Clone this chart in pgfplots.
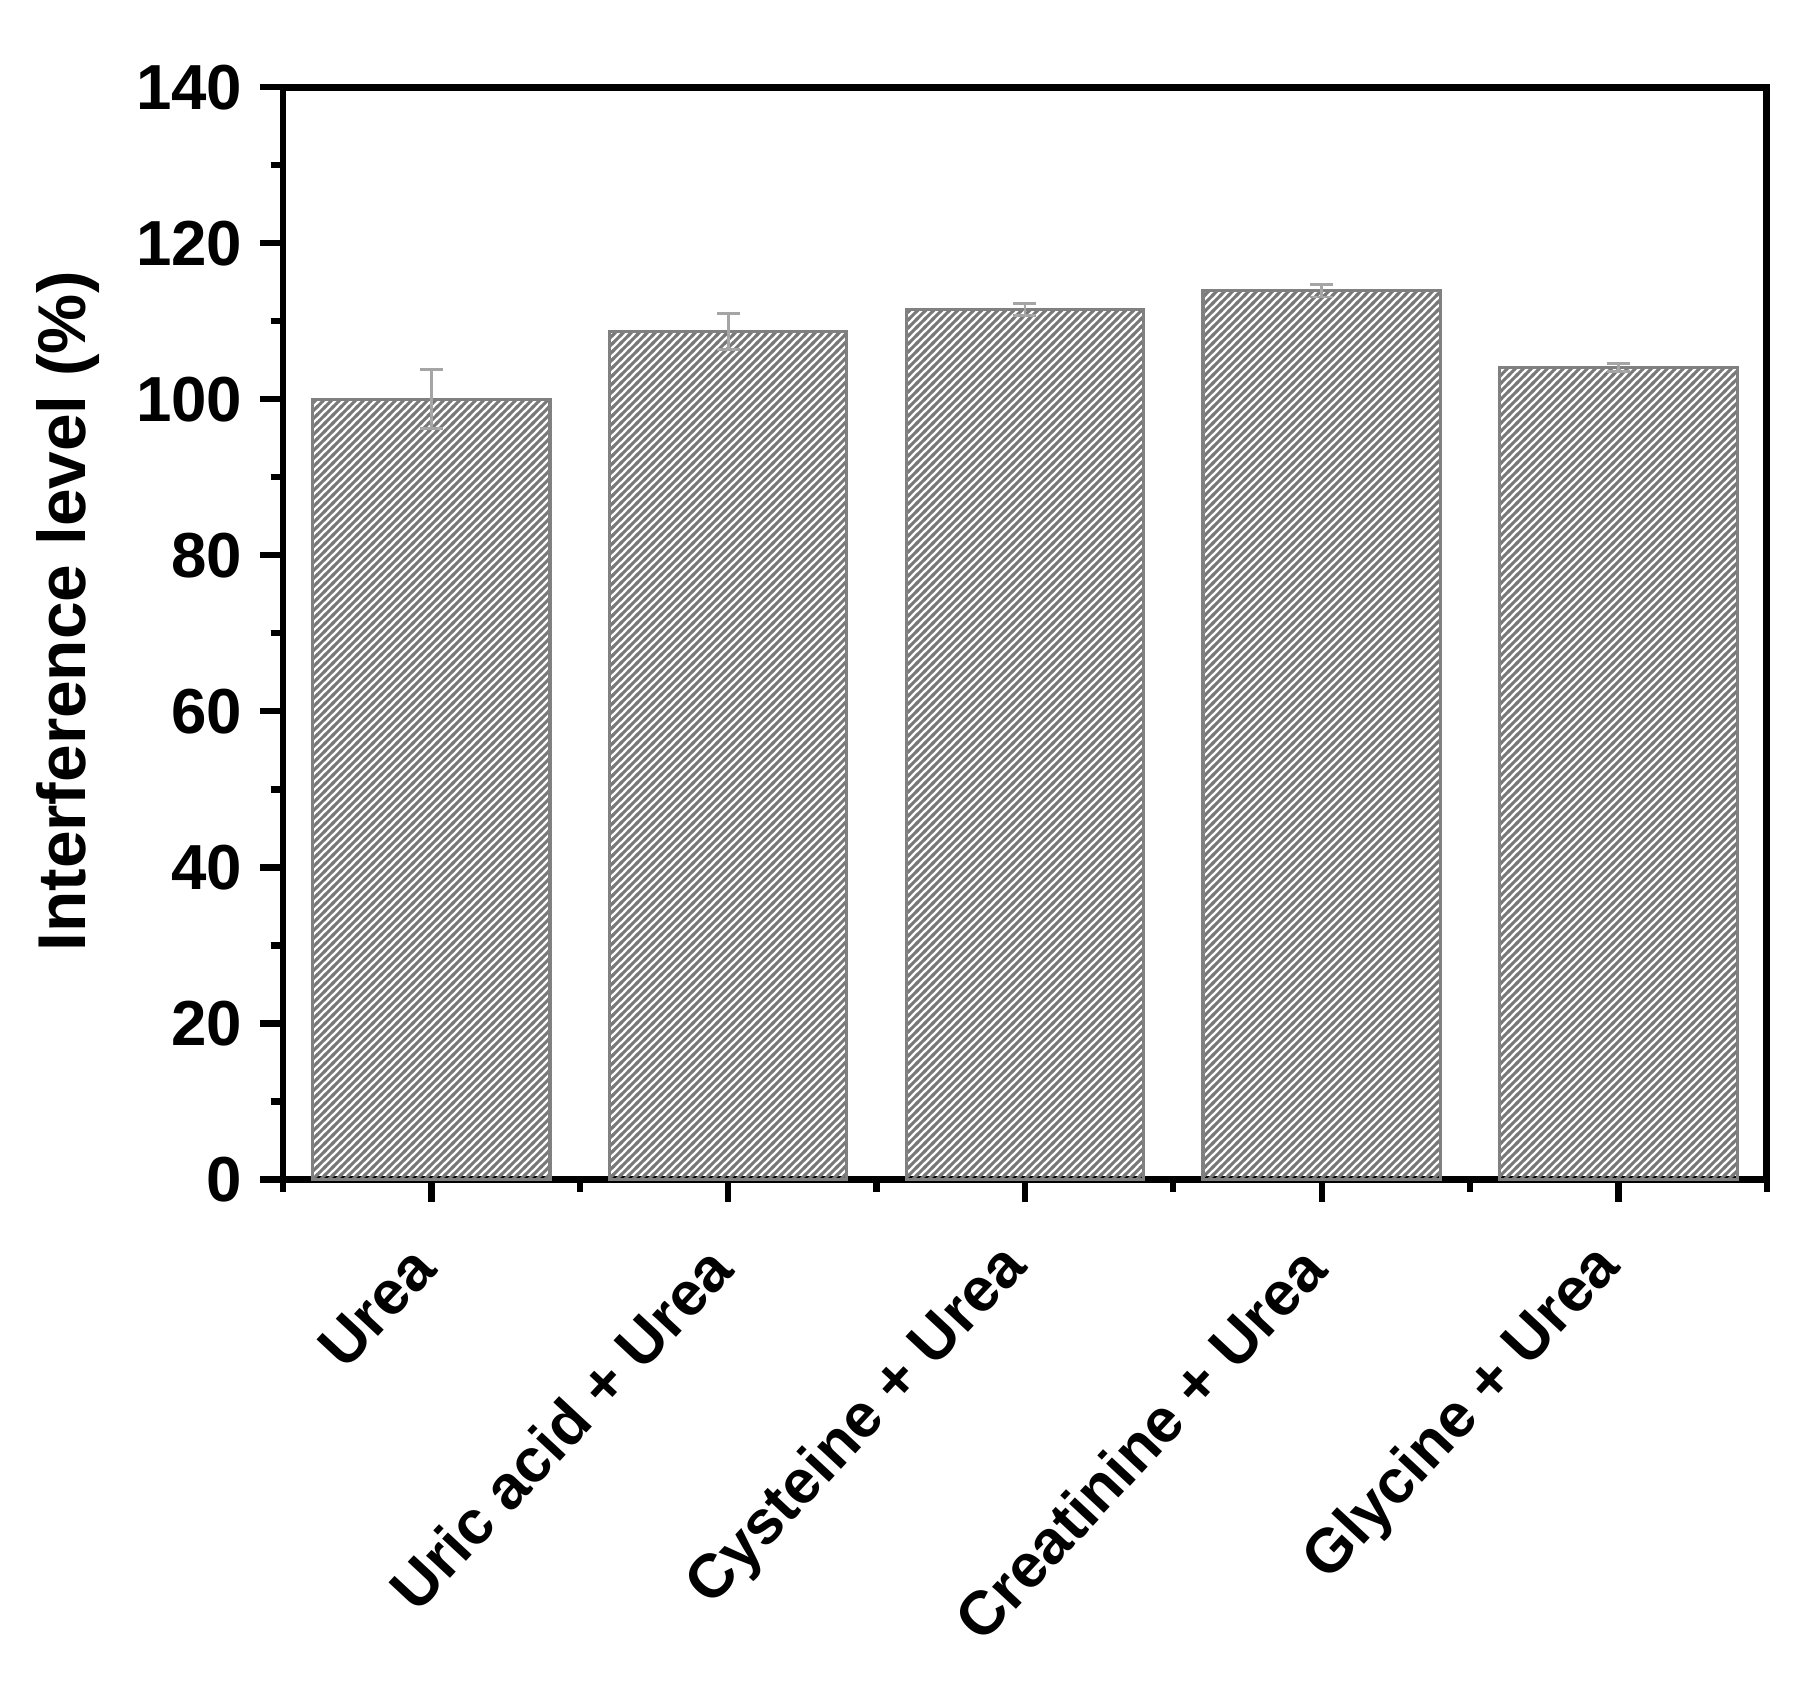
\documentclass[border=0pt]{standalone}
\usepackage{fontspec}
\setmainfont{Liberation Sans}
\usepackage{pgfplots}
\pgfplotsset{compat=1.18}
\usetikzlibrary{patterns}

% fine diagonal hatch, seamless tile
\pgfdeclarepatternformonly{dhatch}{\pgfqpoint{0pt}{0pt}}{\pgfqpoint{2.1pt}{2.1pt}}{\pgfqpoint{2.1pt}{2.1pt}}{
  \pgfsetlinewidth{0.8pt}
  \pgfpathmoveto{\pgfqpoint{-1pt}{-1pt}}\pgfpathlineto{\pgfqpoint{3.1pt}{3.1pt}}
  \pgfpathmoveto{\pgfqpoint{-1pt}{1.1pt}}\pgfpathlineto{\pgfqpoint{1.1pt}{3.2pt}}
  \pgfpathmoveto{\pgfqpoint{1.1pt}{-1pt}}\pgfpathlineto{\pgfqpoint{3.2pt}{1.1pt}}
  \pgfusepath{stroke}}

\definecolor{barline}{RGB}{128,128,128}
\definecolor{hatchcol}{RGB}{120,120,120}
\definecolor{errcol}{RGB}{165,165,165}

\begin{document}
\begin{tikzpicture}
\begin{axis}[
    at={(0,0)}, anchor=south west,
    width=13.11cm, height=9.65cm, scale only axis,
    xmin=0.5, xmax=5.5, ymin=0, ymax=140,
    xtick={1,2,3,4,5},
    minor xtick={0.5,1.5,2.5,3.5,4.5,5.5},
    xticklabels={Urea, Uric acid + Urea, Cysteine + Urea, Creatinine + Urea, Glycine + Urea},
    ytick={0,20,...,140},
    minor y tick num=1,
    xtick pos=bottom, ytick pos=left,
    tick align=outside,
    major tick length=0.2cm, minor tick length=0.11cm,
    every tick/.style={black, line width=1.6pt},
    axis line style={line width=1.7pt},
    /pgf/number format/assume math mode=true,
    yticklabel style={font=\fontsize{16}{19}\selectfont\bfseries, xshift=-1pt},
    xticklabel style={font=\fontsize{15.5}{18}\selectfont\bfseries,
      rotate=47, anchor=east, yshift=-8pt, xshift=-8pt},
    ylabel={Interference level (\%)},
    ylabel style={at={(axis description cs:-0.145,0.52)}, anchor=center,
      font=\fontsize{17}{20}\selectfont\bfseries},
    clip=false,
]
\addplot[ybar, bar width=0.8, draw=barline, line width=0.8pt,
    pattern=dhatch, pattern color=hatchcol,
    error bars/.cd, y dir=both, y explicit,
    error bar style={errcol, line width=0.7pt},
    error mark options={errcol, rotate=90, mark size=2.9pt, line width=0.7pt}]
coordinates {
  (1,100.0) +- (0,3.8)
  (2,108.7) +- (0,2.3)
  (3,111.5) +- (0,0.8)
  (4,113.9) +- (0,0.8)
  (5,104.1) +- (0,0.5)
};
\end{axis}
\path (-2.5cm,-4.53cm) rectangle (13.5cm,10.42cm);
\end{tikzpicture}
\end{document}
